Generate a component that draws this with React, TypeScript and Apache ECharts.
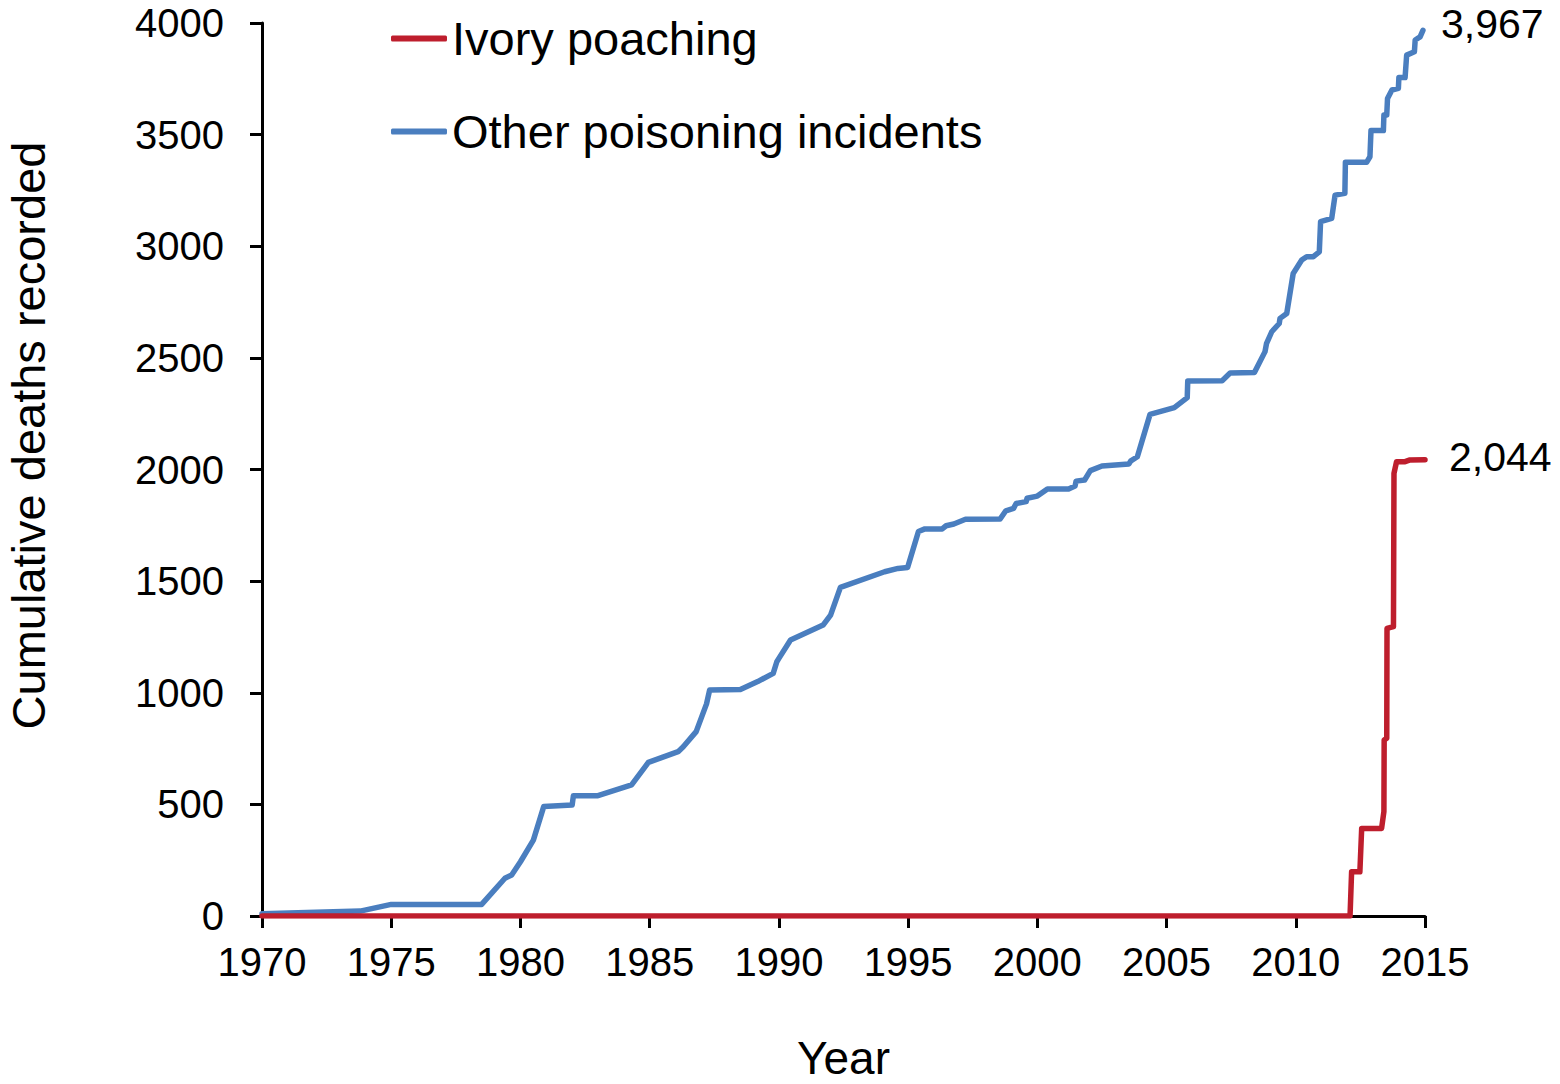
import React, { useEffect, useRef } from "react";
import * as echarts from "echarts";

const xTicks = [1970, 1975, 1980, 1985, 1990, 1995, 2000, 2005, 2010, 2015];
const yTicks = [0, 500, 1000, 1500, 2000, 2500, 3000, 3500, 4000];

const seriesNames = ["Ivory poaching", "Other poisoning incidents"];

const otherYears = [
  1970.0, 1973.8, 1975.0, 1978.5, 1979.4, 1979.66, 1980.0, 1980.5, 1980.9, 1982.0,
  1982.05, 1983.0, 1984.3, 1984.95, 1986.1, 1986.3, 1986.8, 1987.2, 1987.32, 1988.51,
  1989.18, 1989.78, 1989.92, 1990.0, 1990.45, 1991.71, 1992.0, 1992.38, 1994.09, 1994.61,
  1994.98, 1995.4, 1995.65, 1996.32, 1996.47, 1996.77, 1997.22, 1998.56, 1998.78, 1999.08,
  1999.18, 1999.57, 1999.6, 2000.0, 2000.39, 2001.21, 2001.46, 2001.5, 2001.83, 2002.05,
  2002.5, 2003.54, 2003.62, 2003.87, 2004.36, 2005.3, 2005.8, 2005.82, 2007.15, 2007.46,
  2008.4, 2008.81, 2008.87, 2009.07, 2009.36, 2009.39, 2009.65, 2009.9, 2010.23, 2010.42,
  2010.68, 2010.91, 2010.96, 2011.39, 2011.52, 2011.9, 2011.92, 2012.74, 2012.87, 2012.91,
  2013.39, 2013.41, 2013.52, 2013.55, 2013.72, 2013.97, 2013.99, 2014.23, 2014.29, 2014.59,
  2014.62, 2014.81, 2014.92,
];
const otherDeaths = [
  10, 22, 52, 52, 169, 184, 243, 340, 490, 497,
  539, 539, 587, 688, 736, 758, 826, 950, 1012, 1015,
  1050, 1087, 1139, 1154, 1236, 1303, 1348, 1472, 1542, 1557,
  1561, 1722, 1734, 1734, 1748, 1756, 1777, 1778, 1815, 1826,
  1848, 1856, 1871, 1881, 1913, 1913, 1926, 1948, 1953, 1995,
  2016, 2025, 2039, 2057, 2247, 2277, 2322, 2396, 2398, 2432,
  2434, 2528, 2565, 2617, 2654, 2677, 2699, 2878, 2938, 2953,
  2953, 2975, 3110, 3125, 3229, 3237, 3376, 3376, 3401, 3518,
  3518, 3588, 3588, 3662, 3700, 3707, 3756, 3756, 3856, 3871,
  3924, 3938, 3967,
];

const ivoryYears = [
  1970.0, 2012.1, 2012.16, 2012.48, 2012.55, 2013.32, 2013.41, 2013.42, 2013.52, 2013.53,
  2013.78, 2013.8, 2013.9, 2014.23, 2014.42, 2015.0,
];
const ivoryDeaths = [
  0, 0, 198, 198, 392, 392, 467, 788, 796, 1288,
  1296, 1983, 2035, 2035, 2043, 2044,
];

const BLUE = "#4A7EBF";
const RED = "#BE1E2D";
const FONT = "'Liberation Sans', Arial, sans-serif";

export default function App() {
  const ref = useRef<HTMLDivElement>(null);

  useEffect(() => {
    document.body.style.margin = "0";
    if (!ref.current) return;
    const chart = echarts.init(ref.current, null, { renderer: "svg" });

    const otherData = otherYears.map((x, i) => [x, otherDeaths[i]]);
    const ivoryData = ivoryYears.map((x, i) => [x, ivoryDeaths[i]]);
    const fmt = (v: number) => v.toLocaleString("en-US");

    chart.setOption({
      animation: false,
      backgroundColor: "#ffffff",
      textStyle: { fontFamily: FONT },
      grid: {
        left: 262,
        right: 135,
        top: 23,
        bottom: 168,
        containLabel: false,
        outerBoundsMode: "none",
      },
      legend: {
        data: seriesNames.map((n) => ({ name: n, icon: "roundRect" })),
        orient: "vertical",
        left: 386,
        top: 10,
        itemWidth: 56,
        itemHeight: 6,
        itemGap: 46,
        textStyle: { fontFamily: FONT, fontSize: 47, color: "#000" },
      },
      xAxis: {
        type: "value",
        min: xTicks[0],
        max: xTicks[xTicks.length - 1],
        interval: 5,
        name: "Year",
        nameLocation: "middle",
        nameGap: 122,
        nameTextStyle: { fontFamily: FONT, fontSize: 46, lineHeight: 40, color: "#000" },
        axisLine: { show: true, lineStyle: { color: "#000", width: 3 } },
        axisTick: { show: true, inside: false, length: 12, lineStyle: { color: "#000", width: 3 } },
        axisLabel: {
          fontFamily: FONT,
          fontSize: 40,
          color: "#000",
          margin: 26,
          formatter: (v: number) => String(v),
        },
        splitLine: { show: false },
      },
      yAxis: {
        type: "value",
        min: yTicks[0],
        max: yTicks[yTicks.length - 1],
        interval: 500,
        name: "Cumulative deaths recorded",
        nameLocation: "middle",
        nameRotate: 90,
        nameGap: 212,
        nameTextStyle: {
          fontFamily: FONT,
          fontSize: 47,
          lineHeight: 44,
          color: "#000",
          padding: [0, 0, 0, 68],
        },
        axisLine: { show: true, lineStyle: { color: "#000", width: 3 } },
        axisTick: { show: true, inside: false, length: 12, lineStyle: { color: "#000", width: 3 } },
        axisLabel: {
          fontFamily: FONT,
          fontSize: 40,
          color: "#000",
          margin: 38,
          formatter: (v: number) => String(v),
        },
        splitLine: { show: false },
      },
      series: [
        {
          name: seriesNames[1],
          type: "line",
          data: otherData,
          symbol: "none",
          color: BLUE,
          lineStyle: { color: BLUE, width: 5.5, join: "round", cap: "round" },
          endLabel: {
            show: true,
            distance: 18,
            offset: [0, -6],
            fontFamily: FONT,
            fontSize: 41,
            color: "#000",
            formatter: (p: any) => fmt(p.value[1]),
          },
          z: 2,
        },
        {
          name: seriesNames[0],
          type: "line",
          data: ivoryData,
          symbol: "none",
          color: RED,
          lineStyle: { color: RED, width: 5.5, join: "round", cap: "round" },
          endLabel: {
            show: true,
            distance: 24,
            offset: [0, -3],
            fontFamily: FONT,
            fontSize: 41,
            color: "#000",
            formatter: (p: any) => fmt(p.value[1]),
          },
          z: 3,
        },
      ],
    });

    return () => chart.dispose();
  }, []);

  return <div ref={ref} style={{ width: 1560, height: 1084 }} />;
}
